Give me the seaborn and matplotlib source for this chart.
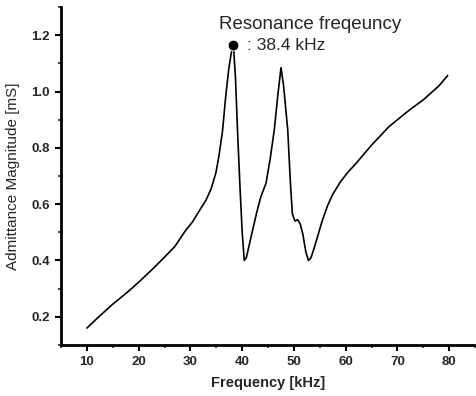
import numpy as np
import pandas as pd
import matplotlib
matplotlib.use("Agg")
import matplotlib.pyplot as plt
import seaborn as sns
from matplotlib.ticker import MultipleLocator

# values
freq = [10, 12, 15, 18, 20, 23, 25, 27, 29, 30.4, 32, 33, 34, 34.9, 35.5, 36.2,
        36.8, 37.4, 38.0, 38.3, 38.7, 39.1, 39.6, 40.0, 40.4, 40.8, 41.3, 42.0,
        42.8, 43.6, 44.6, 45.4, 46.2, 46.9, 47.5, 48.0, 48.8, 49.3, 49.7, 50.2,
        50.7, 51.2, 51.7, 52.3, 52.8, 53.3, 54.0, 54.8, 55.5, 56.5, 57.5, 59,
        60.5, 62, 65, 68.4, 72, 75, 78, 79.7]
adm = [0.16, 0.195, 0.245, 0.29, 0.323, 0.375, 0.412, 0.45, 0.505, 0.537,
       0.585, 0.614, 0.655, 0.71, 0.77, 0.86, 0.98, 1.08, 1.15, 1.165, 1.05,
       0.86, 0.65, 0.50, 0.40, 0.41, 0.45, 0.507, 0.57, 0.626, 0.674, 0.76,
       0.864, 0.99, 1.085, 1.02, 0.864, 0.68, 0.565, 0.54, 0.545, 0.53, 0.495,
       0.43, 0.40, 0.41, 0.45, 0.50, 0.543, 0.595, 0.635, 0.68, 0.715, 0.745,
       0.81, 0.876, 0.93, 0.971, 1.02, 1.057]
res_f = [38.2]
res_y = [1.164]

df = pd.DataFrame({"f": freq, "y": adm})

sns.set_style("ticks")
plt.rcParams["font.family"] = ["Liberation Sans", "DejaVu Sans"]

fig = plt.figure(figsize=(4.77, 3.96), dpi=100)
ax = fig.add_axes([0.128, 0.129, 0.868, 0.853])

sns.lineplot(data=df, x="f", y="y", ax=ax, color="black", lw=1.2)
sns.scatterplot(x=res_f, y=res_y, ax=ax, color="black", s=60, zorder=5)

ax.set_xlim(5, 85)
ax.set_ylim(0.1, 1.3)
ax.xaxis.set_minor_locator(MultipleLocator(5))
ax.yaxis.set_minor_locator(MultipleLocator(0.1))
ax.set_xticks([10, 20, 30, 40, 50, 60, 70, 80])
ax.set_yticks([0.2, 0.4, 0.6, 0.8, 1.0, 1.2])
ax.tick_params(which="major", direction="out", length=4, width=1.5,
               labelsize=9.5, color="black", pad=4)
ax.tick_params(which="minor", direction="out", length=2.5, width=1.2)
for lab in ax.get_xticklabels() + ax.get_yticklabels():
    lab.set_fontweight("bold")

for s in ["top", "right"]:
    ax.spines[s].set_visible(False)
for s in ["left", "bottom"]:
    ax.spines[s].set_linewidth(2)
    ax.spines[s].set_color("black")

ax.set_xlabel("Frequency [kHz]", fontsize=10.5, fontweight="bold", labelpad=6)
ax.set_ylabel("Admittance Magnitude [mS]", fontsize=11, labelpad=8)

ax.text(35.6, 1.24, "Resonance freqeuncy", fontsize=13.5, ha="left", va="center")
ax.text(40.9, 1.165, ": 38.4 kHz", fontsize=12.5, ha="left", va="center")

fig.savefig("out.png", dpi=100)
